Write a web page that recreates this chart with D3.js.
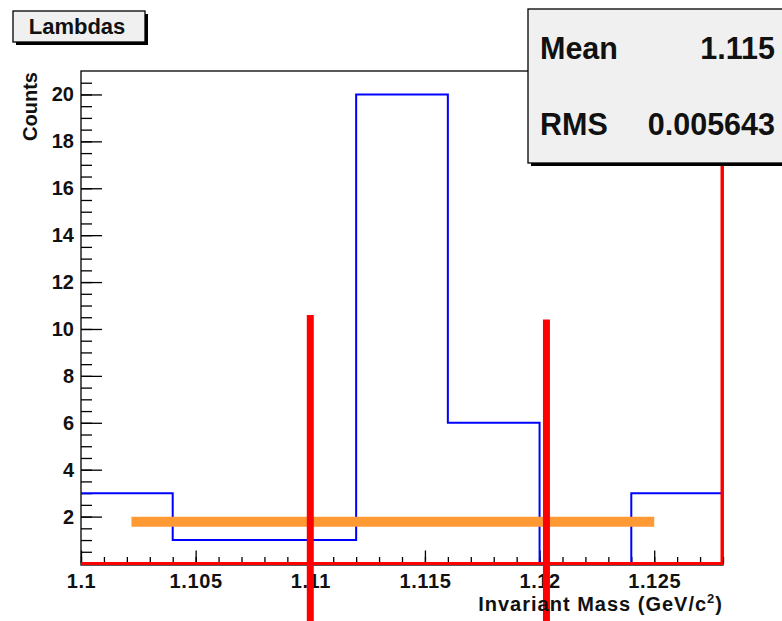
<!DOCTYPE html>
<html>
<head>
<meta charset="utf-8">
<script src="https://cdn.jsdelivr.net/npm/d3@7"></script>
<style>
  html, body { margin: 0; padding: 0; background: #fff; }
  svg { display: block; font-family: "Liberation Sans", Arial, Helvetica, sans-serif; font-weight: bold; }
</style>
</head>
<body>
<svg id="chart" width="782" height="621"></svg>
<script>
// Histogram of Lambda invariant mass: bin edges start, bin width, counts per bin
const binStart = 1.1;
const binWidth = 0.004;
const counts = [3, 1, 1, 20, 6, 0, 3];

// Axis ranges and ticks
const xDomain = [1.1, 1.128];
const yDomain = [0, 21];
const xMajorTicks = [1.1, 1.105, 1.11, 1.115, 1.12, 1.125];
const xTickLabels = ["1.1", "1.105", "1.11", "1.115", "1.12", "1.125"];
const yMajorTicks = [2, 4, 6, 8, 10, 12, 14, 16, 18, 20];

// Stats box entries
const statNames = ["Mean", "RMS"];
const statValues = ["1.115", "0.005643"];

// Hand-drawn cut markers: vertical mass cuts [x, yTop, yBottom] and a horizontal level [x1, x2, y]
const cutLines = [[1.11, 10.6, -2.5], [1.1203, 10.4, -2.5]];
const levelLine = [1.1022, 1.125, 1.78];

const svg = d3.select("#chart");
const x = d3.scaleLinear().domain(xDomain).range([81, 723]);
const y = d3.scaleLinear().domain(yDomain).range([563.5, 71]);

// Frame
svg.append("rect")
  .attr("x", x(xDomain[0])).attr("y", y(yDomain[1]))
  .attr("width", x(xDomain[1]) - x(xDomain[0]))
  .attr("height", y(yDomain[0]) - y(yDomain[1]) + 1.5)
  .attr("fill", "none").attr("stroke", "#000").attr("stroke-width", 1.3);

// X axis: minor ticks every 0.001, major every 0.005
const xMinor = d3.range(0, 29).map(i => 1.1 + i * 0.001);
svg.append("g").attr("transform", `translate(0,${y(0)})`)
  .call(d3.axisBottom(x).tickValues(xMinor).tickSizeInner(-6.5).tickSizeOuter(0).tickFormat(""))
  .call(g => g.select(".domain").remove())
  .call(g => g.selectAll("line").attr("stroke", "#000").attr("stroke-width", 1.3));
svg.append("g").attr("transform", `translate(0,${y(0)})`)
  .call(d3.axisBottom(x).tickValues(xMajorTicks).tickSizeInner(-13).tickSizeOuter(0)
    .tickPadding(10).tickFormat((d, i) => xTickLabels[i]))
  .call(g => g.select(".domain").remove())
  .call(g => g.selectAll("line").attr("stroke", "#000").attr("stroke-width", 1.3))
  .call(g => g.selectAll("text").attr("font-size", 20).attr("font-weight", "bold")
    .attr("letter-spacing", 0.6)
    .attr("font-family", "Liberation Sans, Arial, sans-serif").attr("fill", "#111"));

// Y axis: minor ticks every 0.5, major every 2
const yMinor = d3.range(1, 42).map(i => i * 0.5);
svg.append("g").attr("transform", `translate(${x(xDomain[0])},0)`)
  .call(d3.axisLeft(y).tickValues(yMinor).tickSizeInner(-11).tickSizeOuter(0).tickFormat(""))
  .call(g => g.select(".domain").remove())
  .call(g => g.selectAll("line").attr("stroke", "#000").attr("stroke-width", 1.3));
svg.append("g").attr("transform", `translate(${x(xDomain[0])},0)`)
  .call(d3.axisLeft(y).tickValues(yMajorTicks).tickSizeInner(-21).tickSizeOuter(0).tickPadding(7))
  .call(g => g.select(".domain").remove())
  .call(g => g.selectAll("line").attr("stroke", "#000").attr("stroke-width", 1.3))
  .call(g => g.selectAll("text").attr("font-size", 20).attr("font-weight", "bold")
    .attr("font-family", "Liberation Sans, Arial, sans-serif").attr("fill", "#111"));

// Histogram outline (step line)
const steps = [];
counts.forEach((c, i) => {
  const lo = binStart + i * binWidth, hi = lo + binWidth;
  steps.push([lo, c], [hi, c]);
});
svg.append("path")
  .datum(steps)
  .attr("d", d3.line().x(d => x(d[0])).y(d => y(d[1])))
  .attr("fill", "none").attr("stroke", "#0000ff").attr("stroke-width", 2);

// Red frame edges (bottom and right)
svg.append("line")
  .attr("x1", x(xDomain[0])).attr("x2", x(xDomain[1]))
  .attr("y1", y(0)).attr("y2", y(0))
  .attr("stroke", "#ff0000").attr("stroke-width", 3);
svg.append("line")
  .attr("x1", x(xDomain[1]) - 1).attr("x2", x(xDomain[1]) - 1)
  .attr("y1", y(yDomain[1])).attr("y2", y(0))
  .attr("stroke", "#ff0000").attr("stroke-width", 3);

// Horizontal level marker
svg.append("line")
  .attr("x1", x(levelLine[0])).attr("x2", x(levelLine[1]))
  .attr("y1", y(levelLine[2])).attr("y2", y(levelLine[2]))
  .attr("stroke", "#ff9933").attr("stroke-width", 10);

// Vertical cut markers
svg.selectAll("line.cut").data(cutLines).join("line")
  .attr("class", "cut")
  .attr("x1", d => x(d[0])).attr("x2", d => x(d[0]))
  .attr("y1", d => y(d[1])).attr("y2", d => y(d[2]))
  .attr("stroke", "#ff0000").attr("stroke-width", 7);

// Axis titles
svg.append("text")
  .attr("transform", "translate(36.5,72) rotate(-90)")
  .attr("text-anchor", "end").attr("font-size", 20).attr("fill", "#111")
  .text("Counts");
const xt = svg.append("text")
  .attr("x", 723).attr("y", 611)
  .attr("text-anchor", "end").attr("font-size", 20).attr("letter-spacing", 1)
  .attr("fill", "#111");
xt.append("tspan").text("Invariant Mass (GeV/c");
xt.append("tspan").attr("font-size", 13).attr("dy", -8).text("2");
xt.append("tspan").attr("dy", 8).text(")");

// Title box
svg.append("rect").attr("x", 16).attr("y", 14).attr("width", 132).attr("height", 31).attr("fill", "#000");
svg.append("rect").attr("x", 13).attr("y", 11).attr("width", 132).attr("height", 31)
  .attr("fill", "#f0f0f0").attr("stroke", "#000").attr("stroke-width", 1.3);
svg.append("text").attr("x", 77).attr("y", 33.5).attr("text-anchor", "middle")
  .attr("font-size", 22).attr("fill", "#111").text("Lambdas");

// Stats box
svg.append("rect").attr("x", 531).attr("y", 12).attr("width", 300).attr("height", 154).attr("fill", "#000");
svg.append("rect").attr("x", 528).attr("y", 9).attr("width", 300).attr("height", 154)
  .attr("fill", "#f0f0f0").attr("stroke", "#000").attr("stroke-width", 1.3);
const statY = [59, 135];
statNames.forEach((n, i) => {
  svg.append("text").attr("x", 540).attr("y", statY[i]).attr("font-size", 30.5)
    .attr("fill", "#111").text(n);
  svg.append("text").attr("x", 775).attr("y", statY[i]).attr("text-anchor", "end")
    .attr("font-size", 30.5).attr("fill", "#111").text(statValues[i]);
});
</script>
</body>
</html>
